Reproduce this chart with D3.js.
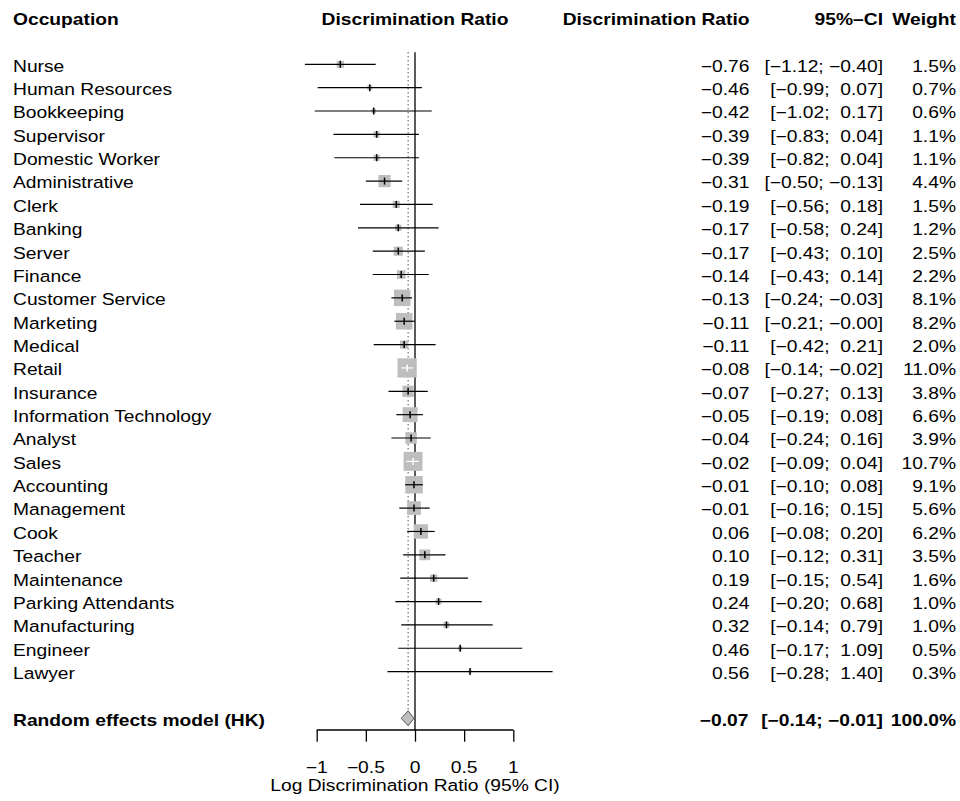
<!DOCTYPE html>
<html>
<head>
<meta charset="utf-8">
<script src="https://cdn.jsdelivr.net/npm/d3@7"></script>
<style>
  html, body { margin: 0; padding: 0; background: #fff; }
  svg { display: block; font-family: "Liberation Sans", Arial, Helvetica, sans-serif; }
  text { white-space: pre; fill: #000; }
</style>
</head>
<body>
<svg id="chart" width="960" height="801"></svg>
<script>
const occupations = ["Nurse","Human Resources","Bookkeeping","Supervisor","Domestic Worker","Administrative","Clerk","Banking","Server","Finance","Customer Service","Marketing","Medical","Retail","Insurance","Information Technology","Analyst","Sales","Accounting","Management","Cook","Teacher","Maintenance","Parking Attendants","Manufacturing","Engineer","Lawyer"];
const estimates = [-0.76,-0.46,-0.42,-0.39,-0.39,-0.31,-0.19,-0.17,-0.17,-0.14,-0.13,-0.11,-0.11,-0.08,-0.07,-0.05,-0.04,-0.02,-0.01,-0.01,0.06,0.10,0.19,0.24,0.32,0.46,0.56];
const lowers = [-1.12,-0.99,-1.02,-0.83,-0.82,-0.50,-0.56,-0.58,-0.43,-0.43,-0.24,-0.21,-0.42,-0.14,-0.27,-0.19,-0.24,-0.09,-0.10,-0.16,-0.08,-0.12,-0.15,-0.20,-0.14,-0.17,-0.28];
const uppers = [-0.40,0.07,0.17,0.04,0.04,-0.13,0.18,0.24,0.10,0.14,-0.03,-0.004,0.21,-0.02,0.13,0.08,0.16,0.04,0.08,0.15,0.20,0.31,0.54,0.68,0.79,1.09,1.40];
const weights = [1.5,0.7,0.6,1.1,1.1,4.4,1.5,1.2,2.5,2.2,8.1,8.2,2.0,11.0,3.8,6.6,3.9,10.7,9.1,5.6,6.2,3.5,1.6,1.0,1.0,0.5,0.3];
const summaryLabel = "Random effects model (HK)";
const summaryEstimate = -0.07, summaryLower = -0.14, summaryUpper = -0.01, summaryWeight = 100.0;
const axisTicks = [-1, -0.5, 0, 0.5, 1];
const axisTickLabels = ["\u22121", "\u22120.5", "0", "0.5", "1"];
const headers = ["Occupation", "Discrimination Ratio", "Discrimination Ratio", "95%\u2013CI", "Weight"];
const xLabel = "Log Discrimination Ratio (95% CI)";

const svg = d3.select("#chart");
const FS = 16.3, SX = 1.18;
const x = d3.scaleLinear().domain([-1, 1]).range([316.7, 513.3]);
const y = d3.scaleLinear().domain([0, 26]).range([64.3, 671.6]);
const base = i => y(i) + 7.4;
const sq = d3.scaleSqrt().domain([0, 1]).range([0, 5.8]);

function txt(xp, yp, s, anchor, bold) {
  svg.append("text")
    .attr("transform", `translate(${xp},${yp}) scale(${SX},1)`)
    .attr("text-anchor", anchor)
    .attr("font-size", FS)
    .attr("font-weight", bold ? "bold" : "normal")
    .attr("xml:space", "preserve")
    .text(s);
}
const fmt = v => (v < 0 ? "\u2212" : "") + Math.abs(v).toFixed(2);
const ciStr = (lo, hi) => "[" + fmt(lo) + ";" + (hi < 0 ? " " : "  ") + fmt(hi) + "]";

const colEst = 749.5, colCI = 883, colW = 956;

// headers
const hy = base(-2);
txt(13, hy, headers[0], "start", true);
txt(x(0), hy, headers[1], "middle", true);
txt(colEst, hy, headers[2], "end", true);
txt(colCI, hy, headers[3], "end", true);
txt(colW, hy, headers[4], "end", true);

const sumY = y(28);
const axisY = 730;

// reference lines
svg.append("line").attr("x1", x(0)).attr("x2", x(0)).attr("y1", 52.3).attr("y2", axisY)
  .attr("stroke", "#5a5a5a").attr("stroke-width", 2);
svg.append("line").attr("x1", x(summaryEstimate)).attr("x2", x(summaryEstimate))
  .attr("y1", 52.3).attr("y2", sumY - 7.5)
  .attr("stroke", "#000").attr("stroke-width", 1).attr("stroke-dasharray", "1,3");

// study rows
occupations.forEach((name, i) => {
  const cy = y(i);
  const s = sq(weights[i]);
  const x0 = x(lowers[i]), x1 = x(uppers[i]), xe = x(estimates[i]);
  svg.append("rect").attr("x", xe - s / 2).attr("y", cy - s / 2).attr("width", s).attr("height", s)
    .attr("fill", "#bebebe");
  const inside = (x1 - x0) < s;
  const col = inside ? "#fff" : "#000";
  svg.append("line").attr("x1", x0).attr("x2", x1).attr("y1", cy).attr("y2", cy)
    .attr("stroke", col).attr("stroke-width", 1.2);
  svg.append("line").attr("x1", xe).attr("x2", xe).attr("y1", cy - 3.5).attr("y2", cy + 3.5)
    .attr("stroke", col).attr("stroke-width", 1.5);

  const by = base(i);
  txt(13, by, name, "start", false);
  txt(colEst, by, fmt(estimates[i]), "end", false);
  txt(colCI, by, ciStr(lowers[i], uppers[i]), "end", false);
  txt(colW, by, weights[i].toFixed(1) + "%", "end", false);
});

// summary diamond
const dpts = [[x(summaryLower), sumY], [x(summaryEstimate), sumY - 7.5], [x(summaryUpper), sumY], [x(summaryEstimate), sumY + 7.5]];
svg.append("polygon").attr("points", dpts.map(p => p.join(",")).join(" "))
  .attr("fill", "#bebebe").attr("stroke", "#555").attr("stroke-width", 1);
const sb = sumY + 7.4;
txt(13, sb, summaryLabel, "start", true);
txt(colEst - 1, sb, fmt(summaryEstimate), "end", true);
txt(colCI, sb, ciStr(summaryLower, summaryUpper), "end", true);
txt(colW, sb, summaryWeight.toFixed(1) + "%", "end", true);

// axis
const axisG = svg.append("g").attr("transform", `translate(0,${axisY})`)
  .call(d3.axisBottom(x).tickValues(axisTicks).tickSize(11.7).tickFormat(""));
axisG.select(".domain").attr("stroke", "#000").attr("stroke-width", 1.3).attr("d", `M${x(-1)},0H${x(1)}`);
axisG.selectAll(".tick line").attr("stroke", "#000").attr("stroke-width", 1.3);
axisTicks.forEach((t, k) => txt(x(t), 772.5, axisTickLabels[k], "middle", false));
txt(x(0), 791, xLabel, "middle", false);
</script>
</body>
</html>
